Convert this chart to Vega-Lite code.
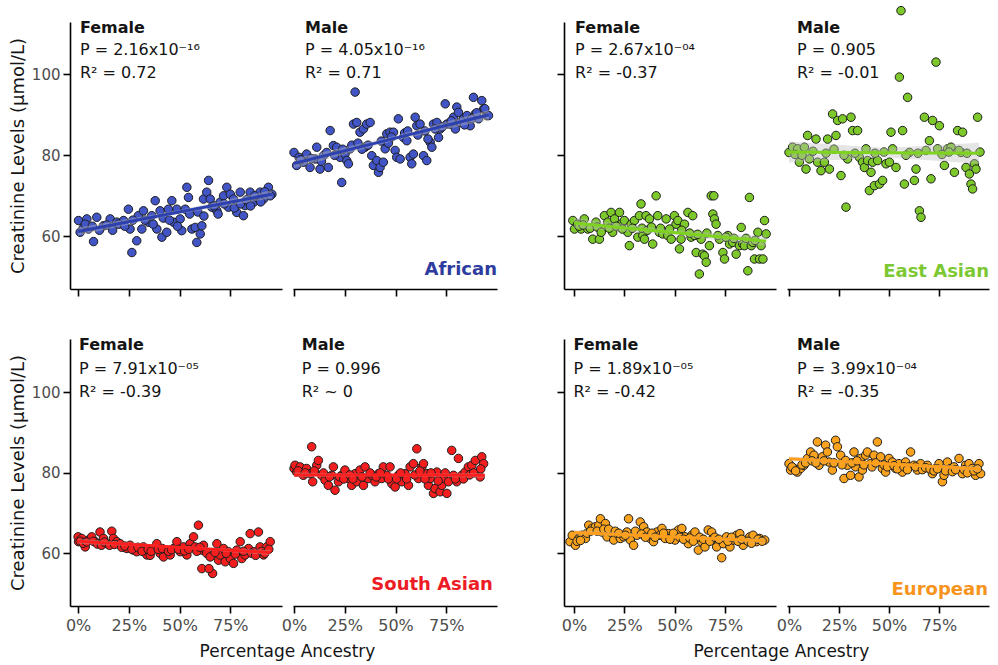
{
"$schema":"https://vega.github.io/schema/vega-lite/v6.json",
"padding":{"left":9,"top":4,"right":5,"bottom":3},
"background":"white",
"datasets":{
"AF_F":[{"x":0.2,"y":63.9},{"x":4.3,"y":64.3},{"x":9.2,"y":64.7},{"x":1.0,"y":61.0},{"x":5.1,"y":61.8},{"x":7.6,"y":58.7},{"x":12.5,"y":62.6},{"x":15.8,"y":64.3},{"x":19.1,"y":63.5},{"x":22.4,"y":63.9},{"x":24.8,"y":66.7},{"x":25.6,"y":61.8},{"x":28.9,"y":58.9},{"x":26.5,"y":56.0},{"x":29.7,"y":65.1},{"x":32.2,"y":66.3},{"x":31.4,"y":61.8},{"x":34.7,"y":63.5},{"x":36.3,"y":65.1},{"x":38.0,"y":68.8},{"x":38.8,"y":61.8},{"x":40.4,"y":66.3},{"x":41.3,"y":59.8},{"x":43.7,"y":61.0},{"x":44.5,"y":66.7},{"x":46.2,"y":68.8},{"x":47.0,"y":63.5},{"x":48.7,"y":66.7},{"x":50.3,"y":64.3},{"x":51.1,"y":61.4},{"x":52.8,"y":66.7},{"x":53.6,"y":72.1},{"x":54.4,"y":69.6},{"x":56.1,"y":61.8},{"x":57.7,"y":62.2},{"x":58.5,"y":58.5},{"x":60.2,"y":60.6},{"x":61.0,"y":62.6},{"x":61.8,"y":69.2},{"x":63.4,"y":70.9},{"x":64.3,"y":73.8},{"x":65.1,"y":69.2},{"x":65.9,"y":67.2},{"x":68.4,"y":66.3},{"x":70.0,"y":68.4},{"x":71.7,"y":70.0},{"x":73.3,"y":72.1},{"x":74.1,"y":67.2},{"x":75.0,"y":70.4},{"x":76.6,"y":69.2},{"x":78.2,"y":65.9},{"x":79.9,"y":70.9},{"x":81.5,"y":65.1},{"x":82.3,"y":67.6},{"x":84.8,"y":70.9},{"x":86.5,"y":68.4},{"x":88.1,"y":69.6},{"x":89.7,"y":70.9},{"x":91.4,"y":69.2},{"x":93.8,"y":72.1},{"x":95.5,"y":70.4},{"x":94.7,"y":70.0},{"x":2.5,"y":62.0},{"x":3.5,"y":63.0},{"x":7.0,"y":62.5},{"x":10.5,"y":61.5},{"x":14.0,"y":62.8},{"x":17.0,"y":61.5},{"x":20.0,"y":63.0},{"x":23.0,"y":62.5},{"x":27.0,"y":64.0},{"x":33.0,"y":64.0},{"x":37.0,"y":63.0},{"x":42.0,"y":64.5},{"x":45.0,"y":64.0},{"x":49.0,"y":62.5},{"x":55.0,"y":65.5},{"x":59.0,"y":66.0},{"x":62.0,"y":65.0},{"x":67.0,"y":67.5},{"x":69.0,"y":65.5},{"x":72.0,"y":68.0},{"x":77.0,"y":67.0},{"x":80.0,"y":68.0},{"x":83.0,"y":69.0},{"x":85.0,"y":67.5},{"x":87.0,"y":70.0},{"x":90.0,"y":68.5},{"x":92.0,"y":71.0}],
"AF_M":[{"x":0.0,"y":80.7},{"x":1.3,"y":77.5},{"x":4.6,"y":78.3},{"x":6.2,"y":80.3},{"x":7.9,"y":77.0},{"x":11.2,"y":82.0},{"x":10.4,"y":79.1},{"x":12.8,"y":76.6},{"x":14.5,"y":79.9},{"x":16.1,"y":80.7},{"x":16.9,"y":77.0},{"x":17.8,"y":86.1},{"x":19.4,"y":82.4},{"x":21.0,"y":82.0},{"x":22.7,"y":79.5},{"x":23.5,"y":73.3},{"x":25.1,"y":80.3},{"x":26.0,"y":78.7},{"x":26.8,"y":77.9},{"x":27.6,"y":81.6},{"x":29.3,"y":87.7},{"x":30.1,"y":95.6},{"x":30.9,"y":88.1},{"x":32.5,"y":85.7},{"x":34.2,"y":86.5},{"x":35.0,"y":82.0},{"x":35.8,"y":87.7},{"x":37.5,"y":88.1},{"x":38.3,"y":79.9},{"x":39.1,"y":77.5},{"x":40.8,"y":78.7},{"x":41.6,"y":75.8},{"x":42.4,"y":77.0},{"x":44.0,"y":78.3},{"x":44.9,"y":81.6},{"x":45.7,"y":85.3},{"x":47.3,"y":85.7},{"x":49.0,"y":85.7},{"x":49.8,"y":81.2},{"x":50.6,"y":79.5},{"x":51.4,"y":89.0},{"x":52.3,"y":79.1},{"x":53.9,"y":84.4},{"x":55.6,"y":83.6},{"x":57.2,"y":79.5},{"x":58.0,"y":77.9},{"x":58.8,"y":80.3},{"x":59.7,"y":89.4},{"x":60.5,"y":87.3},{"x":62.1,"y":87.7},{"x":63.8,"y":79.9},{"x":65.4,"y":78.7},{"x":67.1,"y":83.2},{"x":67.9,"y":82.0},{"x":68.7,"y":87.7},{"x":70.4,"y":88.1},{"x":71.2,"y":84.4},{"x":72.0,"y":86.5},{"x":74.5,"y":92.7},{"x":75.3,"y":87.7},{"x":76.9,"y":87.7},{"x":78.6,"y":89.4},{"x":80.2,"y":91.9},{"x":81.0,"y":90.6},{"x":81.9,"y":88.1},{"x":83.5,"y":89.0},{"x":85.2,"y":89.8},{"x":86.8,"y":87.3},{"x":88.4,"y":94.3},{"x":89.3,"y":90.2},{"x":90.9,"y":89.0},{"x":92.5,"y":93.5},{"x":93.4,"y":91.4},{"x":95.0,"y":89.8},{"x":95.8,"y":89.8},{"x":2.5,"y":79.5},{"x":3.2,"y":78.9},{"x":8.5,"y":79.2},{"x":13.5,"y":78.5},{"x":20.0,"y":80.0},{"x":24.0,"y":81.5},{"x":28.5,"y":82.5},{"x":31.5,"y":83.0},{"x":33.5,"y":81.5},{"x":36.5,"y":82.5},{"x":43.0,"y":83.5},{"x":46.5,"y":83.0},{"x":48.0,"y":84.5},{"x":54.5,"y":85.5},{"x":56.0,"y":86.0},{"x":61.0,"y":85.0},{"x":64.5,"y":86.0},{"x":66.0,"y":84.0},{"x":69.5,"y":86.5},{"x":73.0,"y":87.0},{"x":77.5,"y":88.5},{"x":79.5,"y":86.5},{"x":84.0,"y":87.5},{"x":87.5,"y":89.0},{"x":90.0,"y":90.5},{"x":94.0,"y":91.5}],
"EA_F":[{"x":-0.6,"y":63.9},{"x":0.2,"y":61.8},{"x":1.8,"y":63.0},{"x":3.5,"y":61.8},{"x":5.1,"y":64.3},{"x":6.8,"y":61.8},{"x":9.3,"y":59.3},{"x":10.9,"y":63.5},{"x":12.6,"y":59.3},{"x":14.3,"y":61.8},{"x":15.1,"y":65.1},{"x":16.8,"y":63.5},{"x":18.4,"y":65.9},{"x":19.2,"y":61.0},{"x":20.1,"y":64.3},{"x":22.6,"y":65.9},{"x":23.4,"y":63.0},{"x":25.0,"y":63.9},{"x":26.7,"y":61.0},{"x":27.5,"y":57.7},{"x":28.4,"y":63.0},{"x":30.0,"y":63.9},{"x":31.7,"y":59.8},{"x":32.5,"y":65.1},{"x":33.3,"y":68.0},{"x":34.2,"y":60.2},{"x":35.0,"y":59.3},{"x":35.8,"y":65.1},{"x":37.5,"y":64.3},{"x":39.1,"y":58.1},{"x":40.8,"y":70.0},{"x":41.6,"y":65.1},{"x":42.4,"y":61.0},{"x":44.1,"y":60.6},{"x":45.8,"y":64.3},{"x":46.6,"y":60.2},{"x":48.3,"y":59.3},{"x":49.9,"y":65.1},{"x":50.7,"y":63.0},{"x":51.6,"y":63.9},{"x":52.4,"y":56.9},{"x":53.2,"y":59.3},{"x":54.9,"y":63.0},{"x":56.6,"y":65.9},{"x":58.2,"y":59.8},{"x":59.0,"y":65.1},{"x":59.9,"y":60.2},{"x":60.7,"y":56.0},{"x":62.3,"y":50.7},{"x":63.2,"y":59.3},{"x":64.0,"y":55.6},{"x":64.8,"y":55.2},{"x":65.7,"y":53.6},{"x":67.3,"y":57.7},{"x":68.2,"y":70.0},{"x":69.5,"y":70.0},{"x":69.0,"y":65.5},{"x":69.8,"y":64.3},{"x":70.6,"y":63.0},{"x":72.3,"y":59.3},{"x":74.0,"y":56.0},{"x":74.8,"y":54.4},{"x":76.5,"y":60.2},{"x":77.3,"y":58.1},{"x":78.9,"y":58.5},{"x":80.6,"y":55.6},{"x":82.2,"y":57.7},{"x":83.1,"y":62.2},{"x":83.9,"y":58.1},{"x":84.7,"y":57.7},{"x":86.4,"y":51.5},{"x":87.2,"y":69.6},{"x":88.1,"y":57.7},{"x":88.9,"y":58.5},{"x":89.7,"y":54.4},{"x":91.4,"y":61.0},{"x":92.2,"y":54.4},{"x":93.0,"y":57.7},{"x":93.9,"y":54.4},{"x":94.7,"y":63.9},{"x":95.5,"y":60.6},{"x":2.5,"y":62.5},{"x":4.5,"y":62.8},{"x":8.0,"y":62.0},{"x":11.5,"y":62.3},{"x":13.5,"y":61.0},{"x":17.5,"y":62.0},{"x":21.0,"y":62.5},{"x":24.0,"y":61.8},{"x":29.0,"y":62.0},{"x":33.8,"y":62.0},{"x":36.5,"y":61.5},{"x":38.5,"y":62.3},{"x":43.0,"y":62.0},{"x":47.5,"y":61.8},{"x":53.5,"y":61.5},{"x":57.5,"y":60.8},{"x":61.5,"y":60.5},{"x":66.0,"y":60.8},{"x":71.5,"y":60.2},{"x":75.5,"y":59.8},{"x":79.5,"y":59.5},{"x":85.5,"y":59.5},{"x":90.0,"y":59.0}],
"EA_M":[{"x":0.0,"y":80.7},{"x":1.8,"y":82.0},{"x":4.3,"y":81.6},{"x":5.2,"y":78.3},{"x":7.7,"y":82.0},{"x":8.5,"y":76.6},{"x":9.3,"y":84.9},{"x":10.2,"y":79.1},{"x":13.5,"y":84.0},{"x":14.3,"y":78.3},{"x":16.0,"y":76.2},{"x":17.7,"y":78.3},{"x":19.3,"y":84.0},{"x":20.2,"y":76.6},{"x":23.5,"y":84.9},{"x":21.8,"y":90.2},{"x":24.3,"y":88.6},{"x":26.0,"y":75.0},{"x":26.8,"y":89.0},{"x":28.5,"y":67.2},{"x":29.3,"y":79.1},{"x":31.0,"y":89.4},{"x":31.8,"y":86.1},{"x":34.3,"y":86.1},{"x":35.2,"y":79.5},{"x":36.8,"y":78.3},{"x":37.7,"y":77.0},{"x":38.5,"y":81.6},{"x":39.3,"y":78.7},{"x":40.2,"y":71.3},{"x":41.0,"y":75.8},{"x":41.8,"y":78.3},{"x":42.7,"y":72.5},{"x":44.3,"y":78.7},{"x":45.2,"y":72.9},{"x":46.8,"y":73.8},{"x":48.5,"y":77.9},{"x":50.2,"y":78.3},{"x":51.0,"y":85.7},{"x":51.8,"y":81.6},{"x":53.5,"y":77.0},{"x":55.2,"y":99.3},{"x":56.0,"y":115.7},{"x":56.8,"y":86.1},{"x":57.7,"y":72.9},{"x":59.3,"y":94.3},{"x":60.2,"y":80.7},{"x":62.7,"y":73.8},{"x":63.5,"y":76.6},{"x":65.2,"y":66.3},{"x":66.0,"y":64.7},{"x":67.7,"y":89.4},{"x":68.5,"y":81.2},{"x":70.2,"y":83.6},{"x":71.0,"y":74.2},{"x":71.8,"y":88.6},{"x":73.5,"y":103.0},{"x":74.3,"y":81.6},{"x":75.2,"y":87.3},{"x":77.7,"y":77.5},{"x":79.3,"y":81.6},{"x":81.0,"y":82.0},{"x":82.7,"y":75.8},{"x":84.3,"y":86.1},{"x":86.0,"y":80.7},{"x":86.8,"y":85.7},{"x":88.5,"y":77.0},{"x":90.2,"y":75.4},{"x":91.0,"y":72.9},{"x":92.7,"y":77.9},{"x":93.5,"y":76.6},{"x":91.8,"y":71.7},{"x":94.3,"y":89.4},{"x":3.0,"y":80.2},{"x":6.5,"y":80.0},{"x":12.0,"y":81.0},{"x":18.5,"y":80.5},{"x":22.5,"y":81.5},{"x":27.5,"y":80.0},{"x":33.0,"y":80.5},{"x":43.0,"y":80.5},{"x":47.5,"y":80.8},{"x":58.5,"y":80.0},{"x":64.5,"y":80.5},{"x":76.5,"y":80.2},{"x":80.0,"y":80.8},{"x":85.0,"y":81.2},{"x":89.0,"y":80.5},{"x":95.5,"y":80.8}],
"SA_F":[{"x":0.0,"y":64.1},{"x":0.2,"y":62.9},{"x":1.8,"y":63.7},{"x":3.5,"y":61.6},{"x":5.1,"y":63.3},{"x":6.7,"y":64.1},{"x":8.4,"y":62.9},{"x":10.8,"y":65.3},{"x":12.5,"y":63.7},{"x":14.1,"y":62.4},{"x":16.6,"y":65.5},{"x":17.4,"y":63.7},{"x":19.1,"y":62.9},{"x":20.7,"y":62.4},{"x":22.4,"y":61.6},{"x":24.0,"y":61.2},{"x":25.6,"y":62.0},{"x":27.3,"y":60.8},{"x":28.9,"y":60.4},{"x":30.6,"y":61.2},{"x":32.2,"y":61.6},{"x":33.9,"y":59.6},{"x":35.5,"y":59.5},{"x":37.1,"y":61.2},{"x":38.8,"y":62.4},{"x":40.4,"y":60.0},{"x":42.1,"y":59.1},{"x":43.7,"y":60.8},{"x":45.4,"y":59.6},{"x":47.0,"y":61.2},{"x":48.7,"y":62.9},{"x":50.3,"y":60.4},{"x":51.9,"y":61.6},{"x":53.6,"y":59.6},{"x":55.2,"y":62.4},{"x":56.9,"y":64.1},{"x":57.7,"y":61.6},{"x":59.3,"y":67.0},{"x":61.0,"y":60.8},{"x":61.8,"y":62.0},{"x":61.0,"y":56.2},{"x":63.4,"y":60.0},{"x":65.1,"y":59.1},{"x":66.3,"y":55.0},{"x":64.5,"y":56.2},{"x":68.4,"y":62.4},{"x":69.2,"y":58.3},{"x":70.0,"y":59.6},{"x":71.7,"y":61.2},{"x":72.5,"y":57.9},{"x":74.1,"y":60.4},{"x":75.0,"y":58.7},{"x":76.6,"y":57.5},{"x":78.2,"y":60.8},{"x":79.9,"y":62.9},{"x":80.7,"y":58.7},{"x":82.3,"y":59.6},{"x":84.0,"y":61.2},{"x":84.8,"y":64.9},{"x":86.5,"y":60.4},{"x":88.9,"y":65.3},{"x":89.7,"y":61.6},{"x":91.4,"y":59.6},{"x":93.0,"y":61.6},{"x":94.7,"y":62.9},{"x":1.0,"y":63.0},{"x":2.5,"y":62.5},{"x":4.2,"y":62.8},{"x":7.5,"y":63.0},{"x":9.5,"y":62.3},{"x":11.5,"y":62.0},{"x":13.0,"y":62.8},{"x":15.5,"y":62.0},{"x":18.0,"y":62.2},{"x":21.5,"y":61.5},{"x":23.0,"y":61.8},{"x":26.5,"y":61.0},{"x":29.5,"y":61.5},{"x":31.5,"y":60.5},{"x":34.5,"y":61.0},{"x":36.0,"y":60.5},{"x":39.5,"y":61.0},{"x":41.5,"y":61.2},{"x":44.5,"y":60.5},{"x":46.0,"y":60.9},{"x":49.5,"y":61.0},{"x":52.5,"y":60.6},{"x":54.5,"y":61.0},{"x":58.5,"y":60.5},{"x":60.0,"y":61.5},{"x":67.5,"y":60.2},{"x":73.0,"y":60.0},{"x":77.5,"y":59.8},{"x":81.5,"y":60.5},{"x":85.5,"y":60.0},{"x":87.5,"y":59.5},{"x":90.5,"y":60.5},{"x":92.0,"y":60.0},{"x":94.0,"y":61.0}],
"SA_M":[{"x":0.0,"y":81.1},{"x":0.5,"y":81.9},{"x":1.3,"y":80.2},{"x":3.0,"y":81.5},{"x":4.6,"y":79.4},{"x":6.2,"y":81.1},{"x":7.9,"y":79.8},{"x":8.7,"y":86.5},{"x":9.2,"y":77.8},{"x":11.2,"y":81.9},{"x":12.0,"y":83.1},{"x":13.6,"y":79.4},{"x":15.3,"y":78.2},{"x":16.9,"y":76.9},{"x":18.6,"y":79.4},{"x":19.4,"y":81.5},{"x":20.2,"y":75.7},{"x":21.9,"y":77.8},{"x":23.5,"y":79.4},{"x":25.1,"y":80.7},{"x":26.8,"y":78.6},{"x":28.4,"y":76.9},{"x":30.1,"y":79.8},{"x":30.9,"y":77.8},{"x":32.5,"y":80.7},{"x":34.2,"y":76.9},{"x":35.0,"y":81.5},{"x":36.6,"y":78.6},{"x":38.3,"y":79.4},{"x":39.9,"y":77.8},{"x":41.6,"y":79.8},{"x":43.2,"y":78.6},{"x":44.0,"y":81.5},{"x":45.7,"y":79.4},{"x":47.3,"y":81.5},{"x":48.2,"y":77.3},{"x":49.8,"y":76.5},{"x":51.4,"y":79.4},{"x":53.1,"y":77.8},{"x":54.7,"y":79.8},{"x":56.4,"y":76.9},{"x":57.2,"y":81.5},{"x":58.8,"y":82.3},{"x":60.5,"y":86.0},{"x":61.3,"y":78.6},{"x":63.0,"y":81.5},{"x":63.8,"y":82.3},{"x":65.4,"y":79.8},{"x":66.2,"y":76.9},{"x":67.1,"y":78.6},{"x":68.7,"y":74.9},{"x":69.5,"y":76.1},{"x":70.4,"y":80.2},{"x":72.0,"y":75.3},{"x":72.8,"y":76.9},{"x":73.7,"y":78.6},{"x":75.3,"y":74.9},{"x":76.1,"y":77.8},{"x":77.7,"y":85.6},{"x":78.6,"y":79.4},{"x":80.2,"y":77.8},{"x":81.0,"y":83.6},{"x":82.7,"y":79.4},{"x":84.3,"y":80.2},{"x":85.9,"y":81.5},{"x":87.6,"y":81.9},{"x":89.3,"y":83.1},{"x":90.9,"y":80.2},{"x":92.5,"y":84.0},{"x":93.4,"y":82.3},{"x":91.7,"y":79.0},{"x":2.0,"y":80.5},{"x":5.5,"y":80.0},{"x":10.0,"y":80.5},{"x":14.5,"y":80.0},{"x":17.5,"y":79.0},{"x":22.5,"y":79.0},{"x":24.5,"y":78.5},{"x":27.5,"y":79.5},{"x":29.0,"y":78.5},{"x":33.5,"y":79.0},{"x":37.5,"y":80.0},{"x":40.5,"y":79.0},{"x":42.5,"y":80.0},{"x":46.5,"y":78.5},{"x":50.5,"y":78.5},{"x":52.5,"y":80.0},{"x":55.5,"y":78.5},{"x":59.5,"y":79.5},{"x":62.0,"y":80.5},{"x":64.5,"y":78.5},{"x":67.5,"y":80.0},{"x":71.0,"y":78.0},{"x":74.5,"y":80.0},{"x":79.5,"y":78.5},{"x":83.5,"y":78.5},{"x":86.5,"y":79.5},{"x":88.5,"y":80.0},{"x":92.0,"y":81.0}],
"EU_F":[{"x":-2.0,"y":62.9},{"x":-0.9,"y":64.5},{"x":0.7,"y":62.0},{"x":2.4,"y":63.7},{"x":4.0,"y":64.5},{"x":5.7,"y":63.7},{"x":7.3,"y":67.0},{"x":9.0,"y":66.2},{"x":10.6,"y":66.6},{"x":12.3,"y":67.0},{"x":13.1,"y":68.6},{"x":13.9,"y":65.3},{"x":15.6,"y":67.4},{"x":16.4,"y":64.1},{"x":18.1,"y":65.3},{"x":19.7,"y":63.3},{"x":21.4,"y":64.9},{"x":23.0,"y":63.7},{"x":24.7,"y":64.1},{"x":26.3,"y":65.3},{"x":27.1,"y":68.6},{"x":28.0,"y":63.3},{"x":29.6,"y":62.0},{"x":31.3,"y":64.5},{"x":32.9,"y":67.8},{"x":34.6,"y":66.6},{"x":36.2,"y":65.3},{"x":37.9,"y":63.7},{"x":39.5,"y":62.9},{"x":41.2,"y":65.3},{"x":42.8,"y":64.5},{"x":43.7,"y":66.2},{"x":45.3,"y":63.7},{"x":46.9,"y":64.9},{"x":48.6,"y":64.1},{"x":50.2,"y":63.3},{"x":51.9,"y":65.8},{"x":53.6,"y":66.2},{"x":55.2,"y":64.1},{"x":56.8,"y":62.4},{"x":58.5,"y":64.5},{"x":60.1,"y":65.3},{"x":61.8,"y":60.8},{"x":63.5,"y":62.9},{"x":65.1,"y":61.6},{"x":66.7,"y":65.8},{"x":68.4,"y":65.3},{"x":69.2,"y":63.7},{"x":70.9,"y":61.6},{"x":73.4,"y":58.9},{"x":74.2,"y":62.4},{"x":75.8,"y":64.1},{"x":77.5,"y":61.6},{"x":79.1,"y":63.3},{"x":80.8,"y":64.5},{"x":82.4,"y":64.9},{"x":84.1,"y":62.0},{"x":85.7,"y":63.3},{"x":87.4,"y":64.1},{"x":89.0,"y":64.5},{"x":90.7,"y":62.9},{"x":92.3,"y":63.7},{"x":94.8,"y":63.3},{"x":1.5,"y":63.0},{"x":3.2,"y":63.2},{"x":6.5,"y":65.0},{"x":8.2,"y":65.5},{"x":11.5,"y":65.5},{"x":14.8,"y":66.0},{"x":17.2,"y":66.0},{"x":20.5,"y":65.5},{"x":22.2,"y":65.0},{"x":25.5,"y":64.5},{"x":30.5,"y":65.5},{"x":33.5,"y":64.8},{"x":35.5,"y":64.0},{"x":38.7,"y":65.0},{"x":40.3,"y":64.0},{"x":44.5,"y":65.0},{"x":47.7,"y":63.5},{"x":49.4,"y":65.0},{"x":52.5,"y":64.0},{"x":54.4,"y":63.5},{"x":57.5,"y":63.8},{"x":59.3,"y":63.0},{"x":62.5,"y":64.0},{"x":64.3,"y":63.5},{"x":67.5,"y":63.0},{"x":70.0,"y":64.0},{"x":72.0,"y":63.5},{"x":76.5,"y":63.0},{"x":78.3,"y":64.0},{"x":81.5,"y":63.0},{"x":83.3,"y":63.5},{"x":86.5,"y":63.0},{"x":88.2,"y":62.5},{"x":91.5,"y":63.5},{"x":93.5,"y":63.0}],
"EU_M":[{"x":0.0,"y":82.3},{"x":0.8,"y":80.7},{"x":2.5,"y":81.1},{"x":4.2,"y":80.2},{"x":5.8,"y":81.1},{"x":7.5,"y":81.9},{"x":9.2,"y":83.6},{"x":10.8,"y":85.2},{"x":12.5,"y":84.4},{"x":14.2,"y":87.7},{"x":15.0,"y":81.9},{"x":16.7,"y":84.0},{"x":18.3,"y":86.9},{"x":19.2,"y":85.2},{"x":20.0,"y":82.7},{"x":21.7,"y":80.7},{"x":23.3,"y":88.1},{"x":24.2,"y":86.5},{"x":25.8,"y":84.4},{"x":27.5,"y":78.6},{"x":28.3,"y":83.1},{"x":29.2,"y":81.9},{"x":30.8,"y":79.4},{"x":32.5,"y":85.2},{"x":33.3,"y":81.5},{"x":35.0,"y":79.0},{"x":35.8,"y":83.6},{"x":36.7,"y":80.7},{"x":38.3,"y":84.4},{"x":39.2,"y":85.2},{"x":40.8,"y":82.3},{"x":42.5,"y":84.4},{"x":44.2,"y":87.7},{"x":45.8,"y":84.0},{"x":46.7,"y":81.1},{"x":48.3,"y":80.2},{"x":50.0,"y":83.6},{"x":51.7,"y":82.7},{"x":53.3,"y":81.1},{"x":55.0,"y":82.3},{"x":56.7,"y":80.2},{"x":58.3,"y":82.7},{"x":60.0,"y":81.5},{"x":60.8,"y":85.2},{"x":62.5,"y":81.9},{"x":64.2,"y":80.7},{"x":65.8,"y":82.3},{"x":67.5,"y":81.1},{"x":69.2,"y":81.9},{"x":71.7,"y":79.8},{"x":73.3,"y":81.1},{"x":75.0,"y":82.3},{"x":76.7,"y":77.8},{"x":77.5,"y":79.4},{"x":79.2,"y":82.7},{"x":80.8,"y":81.1},{"x":82.5,"y":81.5},{"x":85.0,"y":83.6},{"x":86.7,"y":79.8},{"x":88.3,"y":81.9},{"x":90.0,"y":82.3},{"x":91.7,"y":81.1},{"x":93.3,"y":79.4},{"x":95.0,"y":82.3},{"x":95.8,"y":79.8},{"x":1.5,"y":81.5},{"x":3.3,"y":80.5},{"x":6.5,"y":82.0},{"x":8.3,"y":82.5},{"x":11.5,"y":83.0},{"x":13.5,"y":82.5},{"x":17.5,"y":83.0},{"x":22.5,"y":82.5},{"x":26.5,"y":82.0},{"x":31.5,"y":82.5},{"x":34.0,"y":83.0},{"x":37.5,"y":82.0},{"x":41.5,"y":81.5},{"x":43.3,"y":82.5},{"x":47.5,"y":82.0},{"x":49.2,"y":81.5},{"x":52.5,"y":81.8},{"x":54.2,"y":81.0},{"x":57.5,"y":81.5},{"x":59.2,"y":80.8},{"x":63.3,"y":81.5},{"x":66.7,"y":80.8},{"x":68.3,"y":81.3},{"x":70.5,"y":81.0},{"x":72.5,"y":80.5},{"x":74.2,"y":81.0},{"x":78.3,"y":80.5},{"x":81.7,"y":80.3},{"x":83.3,"y":80.8},{"x":87.5,"y":80.8},{"x":89.2,"y":80.0},{"x":92.5,"y":80.5},{"x":94.2,"y":81.0}],
"AF_F_fit":[{"x":0,"y":61.2,"lo":60.2,"hi":62.2},{"x":48,"y":65.8,"lo":65.3,"hi":66.3},{"x":95.5,"y":70.4,"lo":69.4,"hi":71.4}],
"AF_M_fit":[{"x":0,"y":78.0,"lo":76.8,"hi":79.2},{"x":48,"y":84.0,"lo":83.4,"hi":84.6},{"x":96,"y":90.0,"lo":88.8,"hi":91.2}],
"EA_F_fit":[{"x":0,"y":63.3,"lo":62.1,"hi":64.5},{"x":48,"y":61.0,"lo":60.4,"hi":61.6},{"x":95.5,"y":58.8,"lo":57.6,"hi":60.0}],
"EA_M_fit":[{"x":0,"y":80.8,"lo":78.2,"hi":83.4},{"x":48,"y":80.65,"lo":79.5,"hi":81.8},{"x":95,"y":80.5,"lo":77.9,"hi":83.1}],
"SA_F_fit":[{"x":0,"y":63.0,"lo":62.4,"hi":63.6},{"x":47,"y":61.6,"lo":61.3,"hi":61.9},{"x":94.7,"y":60.2,"lo":59.6,"hi":60.8}],
"SA_M_fit":[{"x":0,"y":79.5,"lo":78.9,"hi":80.1},{"x":47,"y":79.45,"lo":79.15,"hi":79.75},{"x":94,"y":79.4,"lo":78.8,"hi":80.0}],
"EU_F_fit":[{"x":0,"y":65.2,"lo":64.6,"hi":65.8},{"x":47,"y":64.15,"lo":63.85,"hi":64.45},{"x":95,"y":63.1,"lo":62.5,"hi":63.7}],
"EU_M_fit":[{"x":0,"y":83.5,"lo":82.9,"hi":84.1},{"x":48,"y":82.25,"lo":81.95,"hi":82.55},{"x":95.8,"y":81.0,"lo":80.4,"hi":81.6}]
},
"spacing":40,
"vconcat":[
{"spacing":59,"hconcat":[
 {"bounds":"flush","spacing":11,"hconcat":[
  {"width":212,"height":267,"layer":[
   {"data":{"name":"AF_F"},"mark":{"type":"circle","fill":"#4155C7"},"encoding":{"x":{"field":"x","type":"quantitative","scale":{"domain":[-4,100.5],"nice":false,"zero":false},"axis":{"values":[0,25,50,75],"labels":false,"title":null}},"y":{"field":"y","type":"quantitative","scale":{"domain":[47,112.9],"nice":false,"zero":false},"axis":{"values":[60,80,100],"title":"Creatinine Levels (µmol/L)"}}}},
   {"data":{"name":"AF_F_fit"},"mark":{"type":"area"},"encoding":{"x":{"field":"x","type":"quantitative"},"y":{"field":"lo","type":"quantitative"},"y2":{"field":"hi"}}},
   {"data":{"name":"AF_F_fit"},"mark":{"type":"line","color":"#2C40B0"},"encoding":{"x":{"field":"x","type":"quantitative"},"y":{"field":"y","type":"quantitative"}}},
   {"data":{"values":[{}]},"mark":{"type":"text","fontWeight":"bold"},"encoding":{"x":{"datum":0.9,"type":"quantitative"},"y":{"datum":110.3,"type":"quantitative"},"text":{"value":"Female"}}},
   {"data":{"values":[{}]},"mark":{"type":"text"},"encoding":{"x":{"datum":0.9,"type":"quantitative"},"y":{"datum":104.7,"type":"quantitative"},"text":{"value":"P = 2.16x10⁻¹⁶"}}},
   {"data":{"values":[{}]},"mark":{"type":"text"},"encoding":{"x":{"datum":0.9,"type":"quantitative"},"y":{"datum":99.1,"type":"quantitative"},"text":{"value":"R² = 0.72"}}}
  ]},
  {"width":204,"height":267,"layer":[
   {"data":{"name":"AF_M"},"mark":{"type":"circle","fill":"#4155C7"},"encoding":{"x":{"field":"x","type":"quantitative","scale":{"domain":[-0.5,100],"nice":false,"zero":false},"axis":{"values":[0,25,50,75],"labels":false,"title":null}},"y":{"field":"y","type":"quantitative","scale":{"domain":[47,112.9],"nice":false,"zero":false},"axis":null}}},
   {"data":{"name":"AF_M_fit"},"mark":{"type":"area"},"encoding":{"x":{"field":"x","type":"quantitative"},"y":{"field":"lo","type":"quantitative","axis":null},"y2":{"field":"hi"}}},
   {"data":{"name":"AF_M_fit"},"mark":{"type":"line","color":"#2C40B0"},"encoding":{"x":{"field":"x","type":"quantitative"},"y":{"field":"y","type":"quantitative","axis":null}}},
   {"data":{"values":[{}]},"mark":{"type":"circle","opacity":0,"fillOpacity":0,"strokeOpacity":0},"encoding":{"x":{"datum":56,"type":"quantitative"},"y":{"datum":115.7,"type":"quantitative","axis":null}}},
   {"data":{"values":[{}]},"mark":{"type":"text","fontWeight":"bold"},"encoding":{"x":{"datum":5.4,"type":"quantitative"},"y":{"datum":110.3,"type":"quantitative","axis":null},"text":{"value":"Male"}}},
   {"data":{"values":[{}]},"mark":{"type":"text"},"encoding":{"x":{"datum":5.4,"type":"quantitative"},"y":{"datum":104.7,"type":"quantitative","axis":null},"text":{"value":"P = 4.05x10⁻¹⁶"}}},
   {"data":{"values":[{}]},"mark":{"type":"text"},"encoding":{"x":{"datum":5.4,"type":"quantitative"},"y":{"datum":99.1,"type":"quantitative","axis":null},"text":{"value":"R² = 0.71"}}},
   {"data":{"values":[{}]},"mark":{"type":"text","fontWeight":"bold","fontSize":18,"align":"right","color":"#2D3C9E"},"encoding":{"x":{"datum":100,"type":"quantitative"},"y":{"datum":50.5,"type":"quantitative","axis":null},"text":{"value":"African"}}}
  ]}
 ]},
 {"bounds":"flush","spacing":11,"hconcat":[
  {"width":212,"height":267,"layer":[
   {"data":{"name":"EA_F"},"mark":{"type":"circle","fill":"#7DC92B"},"encoding":{"x":{"field":"x","type":"quantitative","scale":{"domain":[-5,100.4],"nice":false,"zero":false},"axis":{"values":[0,25,50,75],"labels":false,"title":null}},"y":{"field":"y","type":"quantitative","scale":{"domain":[47,112.9],"nice":false,"zero":false},"axis":{"values":[60,80,100],"labels":false,"title":null}}}},
   {"data":{"name":"EA_F_fit"},"mark":{"type":"area"},"encoding":{"x":{"field":"x","type":"quantitative"},"y":{"field":"lo","type":"quantitative"},"y2":{"field":"hi"}}},
   {"data":{"name":"EA_F_fit"},"mark":{"type":"line","color":"#7ED321"},"encoding":{"x":{"field":"x","type":"quantitative"},"y":{"field":"y","type":"quantitative"}}},
   {"data":{"values":[{}]},"mark":{"type":"text","fontWeight":"bold"},"encoding":{"x":{"datum":0.5,"type":"quantitative"},"y":{"datum":110.3,"type":"quantitative"},"text":{"value":"Female"}}},
   {"data":{"values":[{}]},"mark":{"type":"text"},"encoding":{"x":{"datum":0.5,"type":"quantitative"},"y":{"datum":104.7,"type":"quantitative"},"text":{"value":"P = 2.67x10⁻⁰⁴"}}},
   {"data":{"values":[{}]},"mark":{"type":"text"},"encoding":{"x":{"datum":0.5,"type":"quantitative"},"y":{"datum":99.1,"type":"quantitative"},"text":{"value":"R² = -0.37"}}}
  ]},
  {"width":202,"height":267,"layer":[
   {"data":{"name":"EA_M"},"mark":{"type":"circle","fill":"#7DC92B"},"encoding":{"x":{"field":"x","type":"quantitative","scale":{"domain":[-1,100],"nice":false,"zero":false},"axis":{"values":[0,25,50,75],"labels":false,"title":null}},"y":{"field":"y","type":"quantitative","scale":{"domain":[47,112.9],"nice":false,"zero":false},"axis":null}}},
   {"data":{"name":"EA_M_fit"},"mark":{"type":"area"},"encoding":{"x":{"field":"x","type":"quantitative"},"y":{"field":"lo","type":"quantitative","axis":null},"y2":{"field":"hi"}}},
   {"data":{"name":"EA_M_fit"},"mark":{"type":"line","color":"#7ED321"},"encoding":{"x":{"field":"x","type":"quantitative"},"y":{"field":"y","type":"quantitative","axis":null}}},
   {"data":{"values":[{}]},"mark":{"type":"text","fontWeight":"bold"},"encoding":{"x":{"datum":4,"type":"quantitative"},"y":{"datum":110.3,"type":"quantitative","axis":null},"text":{"value":"Male"}}},
   {"data":{"values":[{}]},"mark":{"type":"text"},"encoding":{"x":{"datum":4,"type":"quantitative"},"y":{"datum":104.7,"type":"quantitative","axis":null},"text":{"value":"P = 0.905"}}},
   {"data":{"values":[{}]},"mark":{"type":"text"},"encoding":{"x":{"datum":4,"type":"quantitative"},"y":{"datum":99.1,"type":"quantitative","axis":null},"text":{"value":"R² = -0.01"}}},
   {"data":{"values":[{}]},"mark":{"type":"text","fontWeight":"bold","fontSize":18,"align":"right","color":"#7CC832"},"encoding":{"x":{"datum":100,"type":"quantitative"},"y":{"datum":49.9,"type":"quantitative","axis":null},"text":{"value":"East Asian"}}}
  ]}
 ]}
]},
{"spacing":59,"hconcat":[
 {"bounds":"flush","spacing":11,"hconcat":[
  {"width":212,"height":267,"layer":[
   {"data":{"name":"SA_F"},"mark":{"type":"circle","fill":"#F41E1E"},"encoding":{"x":{"field":"x","type":"quantitative","scale":{"domain":[-4,100.5],"nice":false,"zero":false},"axis":{"values":[0,25,50,75],"labelExpr":"datum.value + '%'","title":"Percentage Ancestry","titleX":217,"titleY":50,"titleAlign":"center","titleBaseline":"alphabetic"}},"y":{"field":"y","type":"quantitative","scale":{"domain":[46.9,113.3],"nice":false,"zero":false},"axis":{"values":[60,80,100],"title":"Creatinine Levels (µmol/L)"}}}},
   {"data":{"name":"SA_F_fit"},"mark":{"type":"area"},"encoding":{"x":{"field":"x","type":"quantitative"},"y":{"field":"lo","type":"quantitative"},"y2":{"field":"hi"}}},
   {"data":{"name":"SA_F_fit"},"mark":{"type":"line","color":"#FF1F1F"},"encoding":{"x":{"field":"x","type":"quantitative"},"y":{"field":"y","type":"quantitative"}}},
   {"data":{"values":[{}]},"mark":{"type":"text","fontWeight":"bold"},"encoding":{"x":{"datum":0.4,"type":"quantitative"},"y":{"datum":110.5,"type":"quantitative"},"text":{"value":"Female"}}},
   {"data":{"values":[{}]},"mark":{"type":"text"},"encoding":{"x":{"datum":0.4,"type":"quantitative"},"y":{"datum":104.5,"type":"quantitative"},"text":{"value":"P = 7.91x10⁻⁰⁵"}}},
   {"data":{"values":[{}]},"mark":{"type":"text"},"encoding":{"x":{"datum":0.4,"type":"quantitative"},"y":{"datum":98.8,"type":"quantitative"},"text":{"value":"R² = -0.39"}}}
  ]},
  {"width":204,"height":267,"layer":[
   {"data":{"name":"SA_M"},"mark":{"type":"circle","fill":"#F41E1E"},"encoding":{"x":{"field":"x","type":"quantitative","scale":{"domain":[-0.5,100],"nice":false,"zero":false},"axis":{"values":[0,25,50,75],"labelExpr":"datum.value + '%'","title":null}},"y":{"field":"y","type":"quantitative","scale":{"domain":[46.9,113.3],"nice":false,"zero":false},"axis":null}}},
   {"data":{"name":"SA_M_fit"},"mark":{"type":"area"},"encoding":{"x":{"field":"x","type":"quantitative"},"y":{"field":"lo","type":"quantitative","axis":null},"y2":{"field":"hi"}}},
   {"data":{"name":"SA_M_fit"},"mark":{"type":"line","color":"#FF1F1F"},"encoding":{"x":{"field":"x","type":"quantitative"},"y":{"field":"y","type":"quantitative","axis":null}}},
   {"data":{"values":[{}]},"mark":{"type":"text","fontWeight":"bold"},"encoding":{"x":{"datum":3.8,"type":"quantitative"},"y":{"datum":110.5,"type":"quantitative","axis":null},"text":{"value":"Male"}}},
   {"data":{"values":[{}]},"mark":{"type":"text"},"encoding":{"x":{"datum":3.8,"type":"quantitative"},"y":{"datum":104.5,"type":"quantitative","axis":null},"text":{"value":"P = 0.996"}}},
   {"data":{"values":[{}]},"mark":{"type":"text"},"encoding":{"x":{"datum":3.8,"type":"quantitative"},"y":{"datum":98.8,"type":"quantitative","axis":null},"text":{"value":"R² ~ 0"}}},
   {"data":{"values":[{}]},"mark":{"type":"text","fontWeight":"bold","fontSize":18,"align":"right","color":"#ED1C24"},"encoding":{"x":{"datum":98,"type":"quantitative"},"y":{"datum":50.9,"type":"quantitative","axis":null},"text":{"value":"South Asian"}}}
  ]}
 ]},
 {"bounds":"flush","spacing":11,"hconcat":[
  {"width":212,"height":267,"layer":[
   {"data":{"name":"EU_F"},"mark":{"type":"circle","fill":"#F9A21E"},"encoding":{"x":{"field":"x","type":"quantitative","scale":{"domain":[-5,100.4],"nice":false,"zero":false},"axis":{"values":[0,25,50,75],"labelExpr":"datum.value + '%'","title":"Percentage Ancestry","titleX":217,"titleY":50,"titleAlign":"center","titleBaseline":"alphabetic"}},"y":{"field":"y","type":"quantitative","scale":{"domain":[46.9,113.3],"nice":false,"zero":false},"axis":{"values":[60,80,100],"labels":false,"title":null}}}},
   {"data":{"name":"EU_F_fit"},"mark":{"type":"area"},"encoding":{"x":{"field":"x","type":"quantitative"},"y":{"field":"lo","type":"quantitative"},"y2":{"field":"hi"}}},
   {"data":{"name":"EU_F_fit"},"mark":{"type":"line","color":"#FF9E1B"},"encoding":{"x":{"field":"x","type":"quantitative"},"y":{"field":"y","type":"quantitative"}}},
   {"data":{"values":[{}]},"mark":{"type":"text","fontWeight":"bold"},"encoding":{"x":{"datum":-0.3,"type":"quantitative"},"y":{"datum":110.5,"type":"quantitative"},"text":{"value":"Female"}}},
   {"data":{"values":[{}]},"mark":{"type":"text"},"encoding":{"x":{"datum":-0.3,"type":"quantitative"},"y":{"datum":104.5,"type":"quantitative"},"text":{"value":"P = 1.89x10⁻⁰⁵"}}},
   {"data":{"values":[{}]},"mark":{"type":"text"},"encoding":{"x":{"datum":-0.3,"type":"quantitative"},"y":{"datum":98.8,"type":"quantitative"},"text":{"value":"R² = -0.42"}}}
  ]},
  {"width":202,"height":267,"layer":[
   {"data":{"name":"EU_M"},"mark":{"type":"circle","fill":"#F9A21E"},"encoding":{"x":{"field":"x","type":"quantitative","scale":{"domain":[-1,100],"nice":false,"zero":false},"axis":{"values":[0,25,50,75],"labelExpr":"datum.value + '%'","title":null}},"y":{"field":"y","type":"quantitative","scale":{"domain":[46.9,113.3],"nice":false,"zero":false},"axis":null}}},
   {"data":{"name":"EU_M_fit"},"mark":{"type":"area"},"encoding":{"x":{"field":"x","type":"quantitative"},"y":{"field":"lo","type":"quantitative","axis":null},"y2":{"field":"hi"}}},
   {"data":{"name":"EU_M_fit"},"mark":{"type":"line","color":"#FF9E1B"},"encoding":{"x":{"field":"x","type":"quantitative"},"y":{"field":"y","type":"quantitative","axis":null}}},
   {"data":{"values":[{}]},"mark":{"type":"text","fontWeight":"bold"},"encoding":{"x":{"datum":4,"type":"quantitative"},"y":{"datum":110.5,"type":"quantitative","axis":null},"text":{"value":"Male"}}},
   {"data":{"values":[{}]},"mark":{"type":"text"},"encoding":{"x":{"datum":4,"type":"quantitative"},"y":{"datum":104.5,"type":"quantitative","axis":null},"text":{"value":"P = 3.99x10⁻⁰⁴"}}},
   {"data":{"values":[{}]},"mark":{"type":"text"},"encoding":{"x":{"datum":4,"type":"quantitative"},"y":{"datum":98.8,"type":"quantitative","axis":null},"text":{"value":"R² = -0.35"}}},
   {"data":{"values":[{}]},"mark":{"type":"text","fontWeight":"bold","fontSize":18,"align":"right","color":"#F7941D"},"encoding":{"x":{"datum":99.5,"type":"quantitative"},"y":{"datum":49.6,"type":"quantitative","axis":null},"text":{"value":"European"}}}
  ]}
 ]}
]}
],
"config":{
 "font":"DejaVu Sans",
 "view":{"stroke":null},
 "text":{"font":"DejaVu Sans","fontSize":16,"align":"left","baseline":"alphabetic","color":"#141414"},
 "circle":{"size":72,"opacity":1,"stroke":"#1e1e1e","strokeWidth":1},
 "line":{"strokeWidth":3,"opacity":1},
 "area":{"color":"#BDBDBD","opacity":0.4},
 "axis":{"grid":false,"domainColor":"#000","domainWidth":1.6,"tickColor":"#000","tickWidth":1.6,"tickSize":7,"labelFont":"DejaVu Sans","labelColor":"#4D4D4D","titleFont":"DejaVu Sans","titleFontWeight":"normal","titleColor":"#141414"},
 "axisX":{"labelFontSize":16,"labelPadding":4,"titleFontSize":17},
 "axisY":{"labelFontSize":15,"labelPadding":3,"titleFontSize":18,"titlePadding":4}
}
}
